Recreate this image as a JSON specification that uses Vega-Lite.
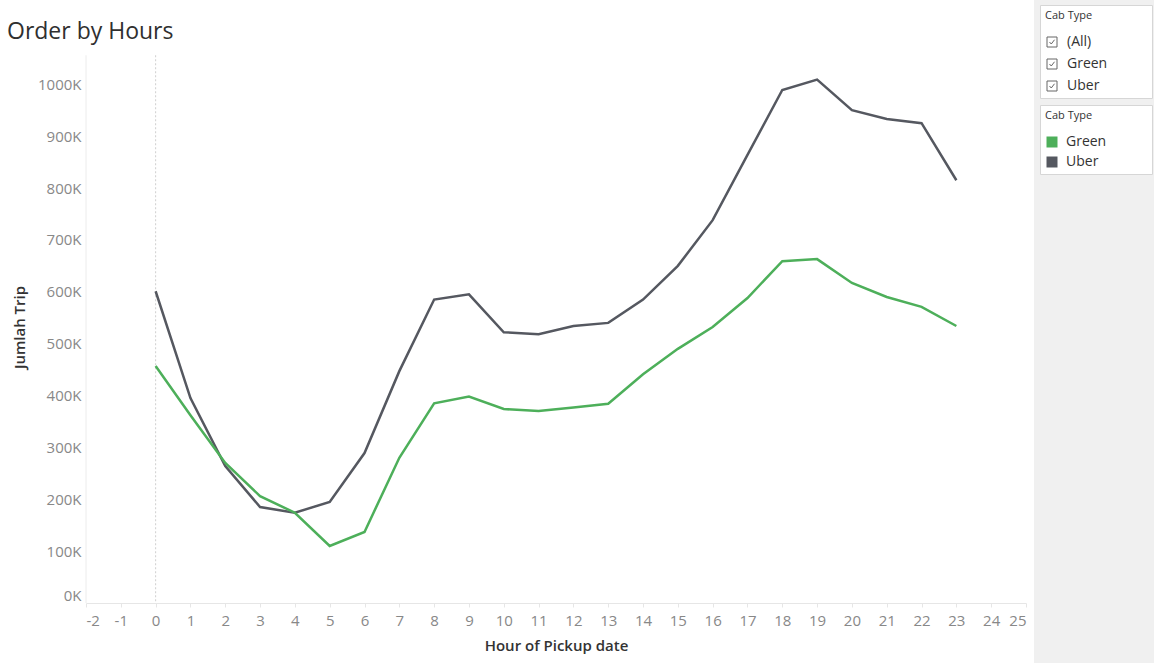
{
  "$schema": "https://vega.github.io/schema/vega-lite/v6.json",
  "padding": {"left": 7, "top": 0, "right": 0, "bottom": 0},
  "background": "white",
  "spacing": 7,
  "config": {"font": "Open Sans"},
  "datasets": {
    "trips": [
      {"hour": 0, "cab": "Uber", "trips": 601000},
      {"hour": 1, "cab": "Uber", "trips": 395000},
      {"hour": 2, "cab": "Uber", "trips": 264000},
      {"hour": 3, "cab": "Uber", "trips": 185000},
      {"hour": 4, "cab": "Uber", "trips": 174000},
      {"hour": 5, "cab": "Uber", "trips": 195000},
      {"hour": 6, "cab": "Uber", "trips": 289000},
      {"hour": 7, "cab": "Uber", "trips": 447000},
      {"hour": 8, "cab": "Uber", "trips": 585000},
      {"hour": 9, "cab": "Uber", "trips": 595000},
      {"hour": 10, "cab": "Uber", "trips": 522000},
      {"hour": 11, "cab": "Uber", "trips": 518000},
      {"hour": 12, "cab": "Uber", "trips": 534000},
      {"hour": 13, "cab": "Uber", "trips": 540000},
      {"hour": 14, "cab": "Uber", "trips": 585000},
      {"hour": 15, "cab": "Uber", "trips": 650000},
      {"hour": 16, "cab": "Uber", "trips": 738000},
      {"hour": 17, "cab": "Uber", "trips": 864000},
      {"hour": 18, "cab": "Uber", "trips": 989000},
      {"hour": 19, "cab": "Uber", "trips": 1009000},
      {"hour": 20, "cab": "Uber", "trips": 950000},
      {"hour": 21, "cab": "Uber", "trips": 933000},
      {"hour": 22, "cab": "Uber", "trips": 925000},
      {"hour": 23, "cab": "Uber", "trips": 815000},
      {"hour": 0, "cab": "Green", "trips": 457000},
      {"hour": 1, "cab": "Green", "trips": 362000},
      {"hour": 2, "cab": "Green", "trips": 270000},
      {"hour": 3, "cab": "Green", "trips": 206000},
      {"hour": 4, "cab": "Green", "trips": 174000},
      {"hour": 5, "cab": "Green", "trips": 110000},
      {"hour": 6, "cab": "Green", "trips": 137000},
      {"hour": 7, "cab": "Green", "trips": 280000},
      {"hour": 8, "cab": "Green", "trips": 385000},
      {"hour": 9, "cab": "Green", "trips": 398000},
      {"hour": 10, "cab": "Green", "trips": 374000},
      {"hour": 11, "cab": "Green", "trips": 370000},
      {"hour": 12, "cab": "Green", "trips": 377000},
      {"hour": 13, "cab": "Green", "trips": 384000},
      {"hour": 14, "cab": "Green", "trips": 441000},
      {"hour": 15, "cab": "Green", "trips": 490000},
      {"hour": 16, "cab": "Green", "trips": 532000},
      {"hour": 17, "cab": "Green", "trips": 588000},
      {"hour": 18, "cab": "Green", "trips": 659000},
      {"hour": 19, "cab": "Green", "trips": 663000},
      {"hour": 20, "cab": "Green", "trips": 617000},
      {"hour": 21, "cab": "Green", "trips": 590000},
      {"hour": 22, "cab": "Green", "trips": 571000},
      {"hour": 23, "cab": "Green", "trips": 534000}
    ]
  },
  "hconcat": [
    {
      "width": 940,
      "height": 603,
      "view": {"stroke": null},
      "title": {
        "text": "Order by Hours",
        "anchor": "start",
        "frame": "group",
        "dx": -79,
        "fontSize": 23,
        "fontWeight": "normal",
        "color": "#2f2f2f",
        "offset": -44
      },
      "data": {"name": "trips"},
      "layer": [
        {
          "data": {"values": [{}]},
          "mark": {"type": "rule", "color": "#ececec", "strokeWidth": 1},
          "encoding": {
            "x": {
              "datum": -2,
              "type": "quantitative",
              "scale": {"domain": [-2, 25], "nice": false, "zero": false},
              "axis": {
                "title": "Hour of Pickup date",
                "values": [-2, -1, 0, 1, 2, 3, 4, 5, 6, 7, 8, 9, 10, 11, 12, 13, 14, 15, 16, 17, 18, 19, 20, 21, 22, 23, 24, 25],
                "labelExpr": "'' + datum.value",
                "grid": false,
                "domainColor": "#e6e6e6",
                "tickColor": "#e6e6e6",
                "tickSize": 4,
                "labelFontSize": 15,
                "labelColor": "#888888",
                "labelPadding": 6,
                "labelFlush": true,
                "labelOverlap": false,
                "titleFontSize": 15,
                "titleFontWeight": 600,
                "titleColor": "#333333",
                "titlePadding": 10
              }
            },
            "y": {"datum": 1056000, "type": "quantitative"},
            "y2": {"datum": 0}
          }
        },
        {
          "data": {"values": [{}]},
          "mark": {"type": "rule", "strokeDash": [2, 2], "color": "#cfcfcf", "strokeWidth": 1},
          "encoding": {
            "x": {
              "datum": 0,
              "type": "quantitative",
              "axis": {
                "title": "Hour of Pickup date",
                "values": [-2, -1, 0, 1, 2, 3, 4, 5, 6, 7, 8, 9, 10, 11, 12, 13, 14, 15, 16, 17, 18, 19, 20, 21, 22, 23, 24, 25],
                "labelExpr": "'' + datum.value",
                "grid": false,
                "domainColor": "#e6e6e6",
                "tickColor": "#e6e6e6",
                "tickSize": 4,
                "labelFontSize": 15,
                "labelColor": "#888888",
                "labelPadding": 6,
                "labelFlush": true,
                "labelOverlap": false,
                "titleFontSize": 15,
                "titleFontWeight": 600,
                "titleColor": "#333333",
                "titlePadding": 10
              }
            },
            "y": {"datum": 1056000, "type": "quantitative"},
            "y2": {"datum": 0}
          }
        },
        {
          "mark": {"type": "line", "strokeWidth": 2.5},
          "encoding": {
            "x": {
              "field": "hour",
              "type": "quantitative",
              "scale": {"domain": [-2, 25], "nice": false, "zero": false},
              "axis": {
                "title": "Hour of Pickup date",
                "values": [-2, -1, 0, 1, 2, 3, 4, 5, 6, 7, 8, 9, 10, 11, 12, 13, 14, 15, 16, 17, 18, 19, 20, 21, 22, 23, 24, 25],
                "labelExpr": "'' + datum.value",
                "grid": false,
                "domainColor": "#e6e6e6",
                "tickColor": "#e6e6e6",
                "tickSize": 4,
                "labelFontSize": 15,
                "labelColor": "#888888",
                "labelPadding": 6,
                "labelFlush": true,
                "labelOverlap": false,
                "titleFontSize": 15,
                "titleFontWeight": 600,
                "titleColor": "#333333",
                "titlePadding": 10
              }
            },
            "y": {
              "field": "trips",
              "type": "quantitative",
              "scale": {"domain": [0, 1162500], "nice": false, "zero": false},
              "axis": {
                "title": "Jumlah Trip",
                "values": [0, 100000, 200000, 300000, 400000, 500000, 600000, 700000, 800000, 900000, 1000000],
                "labelExpr": "datum.value / 1000 + 'K'",
                "gridColor": "#efefef",
                "tickSize": 0,
                "domain": false,
                "labelFontSize": 15,
                "labelColor": "#888888",
                "labelPadding": 5,
                "labelFlush": true,
                "titleFontSize": 15,
                "titleFontWeight": 600,
                "titleColor": "#333333",
                "titlePadding": 10,
                "titleY": 327
              }
            },
            "color": {
              "field": "cab",
              "type": "nominal",
              "scale": {"domain": ["Green", "Uber"], "range": ["#4daf5a", "#555860"]},
              "legend": null
            }
          }
        }
      ]
    },
    {
      "width": 121,
      "height": 663,
      "view": {"fill": "#f0f0f0", "stroke": null},
      "layer": [
        {
          "data": {"values": [{"filter": "(All)"}, {"filter": "Green"}, {"filter": "Uber"}]},
          "mark": {"type": "point", "opacity": 0, "filled": false, "color": "#666666"},
          "encoding": {
            "shape": {
              "field": "filter",
              "type": "nominal",
              "scale": {
                "domain": ["(All)", "Green", "Uber"],
                "range": [
                  "M-1,-1H1V1H-1Z M-0.5,0L-0.15,0.4L0.5,-0.45",
                  "M-1,-1H1V1H-1Z M-0.5,0L-0.15,0.4L0.5,-0.45",
                  "M-1,-1H1V1H-1Z M-0.5,0L-0.15,0.4L0.5,-0.45"
                ]
              },
              "legend": {
                "title": "Cab Type\u00a0\u00a0\u00a0\u00a0\u00a0\u00a0\u00a0\u00a0\u00a0\u00a0\u00a0\u00a0\u00a0\u00a0\u00a0\u00a0\u00a0\u00a0\u00a0\u200b",
                "orient": "none",
                "legendX": 6,
                "legendY": 5,
                "padding": 5,
                "fillColor": "#ffffff",
                "strokeColor": "#d6d6d6",
                "titleFontSize": 11,
                "titleFontWeight": "normal",
                "titleColor": "#333333",
                "titlePadding": 14,
                "labelFontSize": 14,
                "labelColor": "#333333",
                "labelOffset": 8,
                "symbolSize": 100,
                "symbolStrokeColor": "#666666",
                "symbolStrokeWidth": 1,
                "symbolFillColor": "transparent",
                "symbolOpacity": 1,
                "rowPadding": 8
              }
            }
          }
        },
        {
          "data": {"values": [{"cab": "Green"}, {"cab": "Uber"}]},
          "mark": {"type": "point", "opacity": 0, "filled": true},
          "encoding": {
            "color": {
              "field": "cab",
              "type": "nominal",
              "scale": {"domain": ["Green", "Uber"], "range": ["#4daf5a", "#555860"]},
              "legend": {
                "title": "Cab Type\u00a0\u00a0\u00a0\u00a0\u00a0\u00a0\u00a0\u00a0\u00a0\u00a0\u00a0\u00a0\u00a0\u00a0\u00a0\u00a0\u00a0\u00a0\u00a0\u200b",
                "orient": "none",
                "legendX": 6,
                "legendY": 105,
                "padding": 5,
                "fillColor": "#ffffff",
                "strokeColor": "#d6d6d6",
                "titleFontSize": 11,
                "titleFontWeight": "normal",
                "titleColor": "#333333",
                "titlePadding": 14,
                "labelFontSize": 14,
                "labelColor": "#333333",
                "labelOffset": 7,
                "symbolType": "square",
                "symbolSize": 121,
                "symbolOpacity": 1,
                "rowPadding": 6
              }
            }
          }
        }
      ]
    }
  ],
  "resolve": {
    "scale": {"color": "independent", "shape": "independent"},
    "legend": {"color": "independent", "shape": "independent"}
  }
}
